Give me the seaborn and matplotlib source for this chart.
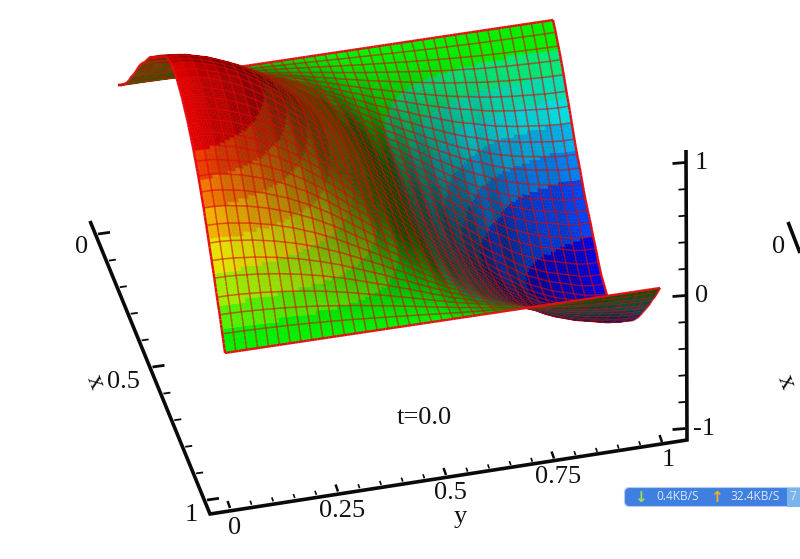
import numpy as np
import matplotlib
matplotlib.use("Agg")
import matplotlib.pyplot as plt
from matplotlib.collections import PolyCollection
from matplotlib.patches import FancyBboxPatch, Rectangle
import seaborn as sns

# ---------- values ----------
x_profile = [0, .04, .09, .14, .20, .27, .33, .40, .47, .53, .58, .64, .70, .74, .78, .83, .87, .92, .96, .98, 1,
             1, .99, .97, .95, .92, .89, .85, .81, .76, .71, .65, .59, .52, .45, .38, .31, .23, .16, .08, 0]
y_profile = [1, 1, .99, .97, .95, .92, .89, .85, .81, .76, .71, .65, .59, .52, .45, .38, .31, .23, .16, .08, 0,
             -.07, -.15, -.21, -.28, -.34, -.41, -.47, -.53, -.59, -.64, -.68, -.73, -.77, -.80, -.83, -.85, -.87, -.89, -.90, -.90]
band_colors = ["#0000dc", "#0040f0", "#0080f0", "#00b0e8", "#00dce0", "#00e0b0", "#00e878", "#00f000",
               "#50f000", "#a0ec00", "#e4e400", "#f0b000", "#f07800", "#ec3c00", "#e00000"]
band_levels = [-.75, -.56, -.46, -.36, -.27, -.18, -.09, .10, .2, .33, .46, .59, .70, .80]
x_ticks = [0, .1, .2, .3, .4, .5, .6, .7, .8, .9, 1]
x_major = [0, .5, 1]
y_ticks = [0, .05, .1, .15, .2, .25, .3, .35, .4, .45, .5, .55, .6, .65, .7, .75, .8, .85, .9, .95, 1]
y_major = [0, .25, .5, .75, 1]
z_ticks = [-1, -.8, -.6, -.4, -.2, 0, .2, .4, .6, .8, 1]
z_major = [-1, 0, 1]

# ---------- layout ----------
sns.set_theme(style="white")
plt.rcParams["font.family"] = ["Liberation Serif", "DejaVu Serif"]
FS = 19
fig = plt.figure(figsize=(8, 5.59), dpi=100)
ax = fig.add_axes([0, 0, 1, 1])
ax.set_xlim(0, 800)
ax.set_ylim(559, 0)
ax.axis("off")

S_ORG = np.array([118.0, 85.0])
S_X = np.array([107.0, 268.0])
S_Y = np.array([435.0, -65.0])
S_Z = np.array([0.0, -155.0])


def surf_proj(x, y, z):
    return (S_ORG[0] + S_X[0] * x + S_Y[0] * y + S_Z[0] * z,
            S_ORG[1] + S_X[1] * x + S_Y[1] * y + S_Z[1] * z)


# ---------- surface ----------
n_sub = 4
xp = np.asarray(x_profile)
yp = np.asarray(y_profile)
n = len(xp) - 1
coarse = np.linspace(0, 1, n + 1)
fine = np.linspace(0, 1, n * n_sub + 1)
fxp = np.interp(fine, coarse, xp)
fyp = np.interp(fine, coarse, yp)
X, Y = np.meshgrid(fine, fine, indexing="ij")
Z = np.outer(fxp, fyp)
zx = np.gradient(Z, fine, axis=0)
zy = np.gradient(Z, fine, axis=1)
shade = np.clip(1.02 - 0.25 * np.clip(zx, 0, None) + 0.27 * np.clip(zy, None, 0), 0.33, 1.0)

PX, PY = surf_proj(X, Y, Z)
depth = X - 0.246 * Y + 1.89 * Z
bands = np.array(sns.color_palette(band_colors, n_colors=15))

polys, faces, edges, widths, depths = [], [], [], [], []
N = n * n_sub
for i in range(N):
    for j in range(N):
        idx = [(i, j), (i + 1, j), (i + 1, j + 1), (i, j + 1)]
        poly = [(PX[a], PY[a]) for a in idx]
        zm = np.mean([Z[a] for a in idx])
        s = np.mean([shade[a] for a in idx])
        k = int(np.searchsorted(band_levels, zm))
        c = bands[k] * s
        polys.append(poly)
        faces.append((*c, 1))
        edges.append((*c, 1))
        widths.append(0.35)
        depths.append(np.mean([depth[a] for a in idx]))

line_rgba = (0.86, 0.03, 0.03, 0.62)
edge_rgba = (0.91, 0.05, 0.08, 1.0)
for i in range(0, N + 1, n_sub):
    for j in range(N):
        polys.append([(PX[i, j], PY[i, j]), (PX[i, j + 1], PY[i, j + 1])])
        faces.append((0, 0, 0, 0))
        border = i in (0, N)
        edges.append(edge_rgba if border else line_rgba)
        widths.append(1.7 if border else 1.1)
        depths.append((depth[i, j] + depth[i, j + 1]) / 2 + 0.03)
for j in range(0, N + 1, n_sub):
    for i in range(N):
        polys.append([(PX[i, j], PY[i, j]), (PX[i + 1, j], PY[i + 1, j])])
        faces.append((0, 0, 0, 0))
        border = j in (0, N)
        edges.append(edge_rgba if border else line_rgba)
        widths.append(1.7 if border else 1.1)
        depths.append((depth[i, j] + depth[i + 1, j]) / 2 + 0.03)

order = np.argsort(depths)
pc = PolyCollection([polys[o] for o in order],
                    facecolors=[faces[o] for o in order],
                    edgecolors=[edges[o] for o in order],
                    linewidths=[widths[o] for o in order], zorder=2)
ax.add_collection(pc)

# ---------- axes ----------
AX = dict(color="#0a0a0a", solid_capstyle="butt", zorder=4)


def x_axis_pt(v):
    return 98 + 109 * v, 234 + 266 * v


def y_axis_pt(v):
    return 230 + 432 * v, 508 - 66 * v


def z_axis_pt(v):
    return 685.5, 295.5 - 133 * v


ax.plot([90, 210, 687, 686], [221, 514, 440, 150], lw=2.6, solid_joinstyle="miter", **AX)

for v in x_ticks:
    px, py = x_axis_pt(v)
    L = 12 if v in x_major else 7
    ax.plot([px, px + L], [py, py - L * 0.14], lw=2.0 if v in x_major else 1.3, **AX)
for v in y_ticks:
    px, py = y_axis_pt(v)
    L = 7 if v in y_major else 4
    ax.plot([px, px - L * 0.35], [py, py - L], lw=1.8 if v in y_major else 1.2, **AX)
for v in z_ticks:
    px, py = z_axis_pt(v)
    L = 13 if v in z_major else 7
    ax.plot([px, px - L], [py, py + L * 0.08], lw=2.0 if v in z_major else 1.3, **AX)

TXT = dict(fontsize=FS, ha="center", va="center", color="#111111", zorder=5)
ax.text(82, 247, "0", **TXT)
ax.text(123, 382, "0.5", **TXT)
ax.text(95, 382, "x", rotation=-68, **TXT)
ax.text(191, 515, "1", **TXT)
ax.text(235, 528, "0", **TXT)
ax.text(342, 511, "0.25", **TXT)
ax.text(450, 493, "0.5", **TXT)
ax.text(460, 517, "y", **TXT)
ax.text(558, 477, "0.75", **TXT)
ax.text(668, 460, "1", **TXT)
ax.text(701, 163, "1", **TXT)
ax.text(702, 296, "0", **TXT)
ax.text(704, 429, "-1", **TXT)
ax.text(424, 418, "t=0.0", **TXT)

# neighbouring panel that the screenshot cuts off
ax.text(779, 247, "0", **TXT)
ax.plot([788, 800], [222, 253], lw=2.6, **AX)
ax.text(786, 382, "x", rotation=-68, **TXT)

# ---------- network speed widget over the screenshot ----------
ax.add_patch(FancyBboxPatch((624.5, 487.5), 180, 19, boxstyle="round,pad=0,rounding_size=5",
                            fc="#3f7fe0", ec="#b8cdee", lw=0.8, zorder=6))
ax.add_patch(Rectangle((787, 487.5), 13, 19, fc="#79b4ec", ec="none", zorder=7))
UI = dict(family="Open Sans", fontsize=8.6, ha="center", va="center", color="#dbe8fb", zorder=8)
ax.text(678, 497, "0.4KB/S", **UI)
ax.text(755, 497, "32.4KB/S", **UI)
ax.text(793, 497, "7", **UI)
ax.text(640, 497, "↓", family="DejaVu Sans", fontsize=11, fontweight="bold", color="#9be04a",
        ha="center", va="center", zorder=8)
ax.text(716, 497, "↑", family="DejaVu Sans", fontsize=11, fontweight="bold", color="#f5b01e",
        ha="center", va="center", zorder=8)

fig.savefig("out.png", dpi=100)
